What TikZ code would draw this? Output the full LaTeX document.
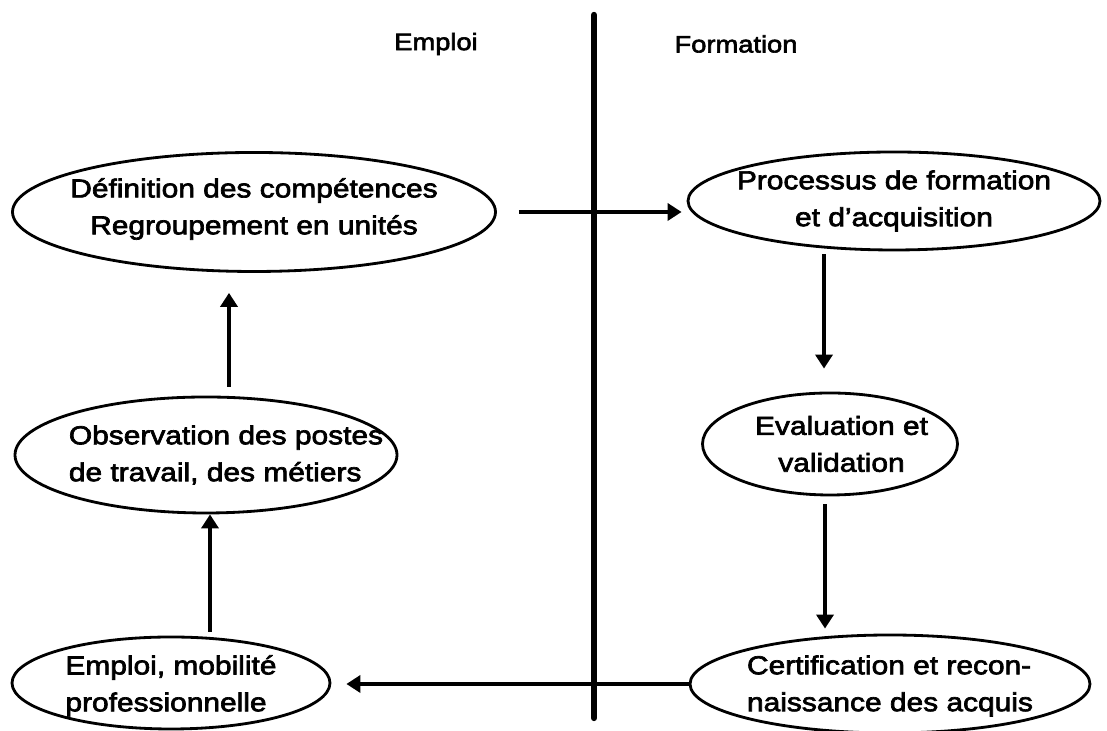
\documentclass[tikz,border=0pt]{standalone}
\usepackage{fontspec}
\setmainfont[FakeStretch=1.15,FakeBold=2.6]{Liberation Sans}
\usetikzlibrary{arrows.meta,positioning,calc,shapes.geometric}

\begin{document}
\begin{tikzpicture}[
  oval/.style={ellipse,draw,line width=1.6pt,inner sep=0pt},
  txt/.style={font=\fontsize{14.8}{21}\selectfont,align=center},
  arr/.style={line width=2.2pt,-{Triangle[width=3.4mm,length=2.8mm]}},
  hd/.style={font=\fontsize{13.5}{15}\selectfont}]
  \useasboundingbox (0,0) rectangle (22.14,14.62);
  \coordinate (top) at (11.88,14.32);
  \coordinate (bot) at (11.88,0.26);
  \draw[line width=3.6pt,line cap=round] (top) -- (bot);
  \node[hd] (emploiHd) at (8.72,13.74) {Emploi};
  \node[hd] (formHd) at (14.72,13.74) {Formation};
  \node[oval,minimum width=9.66cm,minimum height=2.38cm,
    label={[txt,yshift=0.6mm]center:Définition des compétences\\Regroupement en unités}] (def) at (5.08,10.38) {};
  \node[oval,minimum width=8.24cm,minimum height=1.96cm,
    label={[txt]center:Processus de formation\\et d’acquisition}] (proc) at (17.88,10.6) {};
  \node[oval,minimum width=7.64cm,minimum height=2.32cm,
    label={[txt,align=left,xshift=4mm]center:Observation des postes\\de travail, des métiers}] (obs) at (4.12,5.52) {};
  \node[oval,minimum width=5.1cm,minimum height=2.04cm,
    label={[txt,xshift=2.3mm]center:Evaluation et\\validation}] (eval) at (16.6,5.74) {};
  \node[oval,minimum width=6.36cm,minimum height=1.84cm,
    label={[txt,align=left,yshift=-0.6mm]center:Emploi, mobilité\\professionnelle}] (emp) at (3.42,0.96) {};
  \node[oval,minimum width=8cm,minimum height=1.96cm,
    label={[txt,align=left,yshift=-0.4mm]center:Certification et recon-\\naissance des acquis}] (cert) at (17.8,0.94) {};
  \draw[arr,shorten >=1mm] ([xshift=4.4mm]def.east) -- (def.east -| proc.west);
  \draw[arr] ($(eval.north |- proc.south)+(-0.12,-0.06)$) -- ($(eval.north)+(-0.12,0.46)$);
  \draw[arr] ($(eval.south)+(-0.1,-0.16)$) -- ($(eval.south |- cert.north)+(-0.1,0.1)$);
  \draw[arr] (cert.west) -- ([xshift=3mm]emp.east |- cert.west);
  \draw[arr] ($(emp.north)+(0.78,0.08)$) coordinate (e1) -- (e1 |- obs.south);
  \draw[arr] ($(obs.north)+(0.46,0.18)$) coordinate (o1) -- ($(o1 |- def.south)+(0,-0.4)$);
\end{tikzpicture}
\end{document}
